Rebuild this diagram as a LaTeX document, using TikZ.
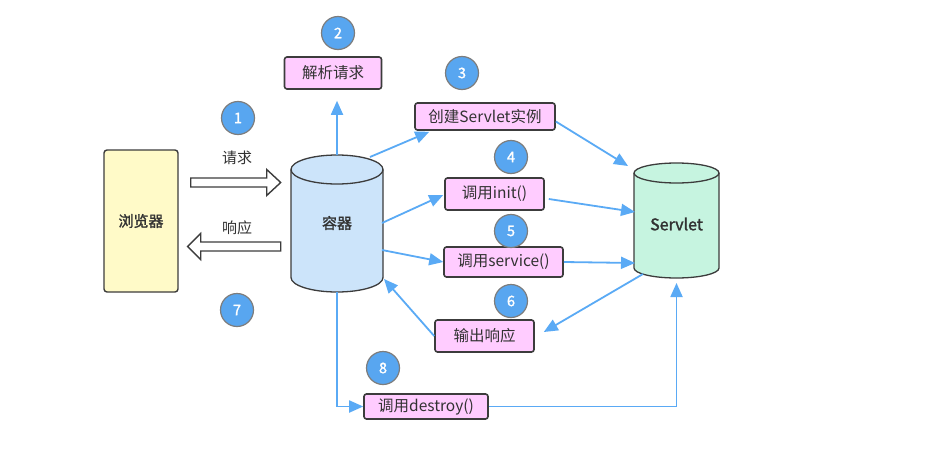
\documentclass[tikz,border=0pt]{standalone}
\usepackage{fontspec}
\newfontfamily\cjk{Noto Sans CJK SC}
\newfontfamily\cjkb[FakeBold=1.6]{Noto Sans CJK SC}
\usetikzlibrary{arrows.meta,calc}
\definecolor{flowblue}{RGB}{90,170,245}
\definecolor{badgefill}{RGB}{88,166,240}
\definecolor{badgeline}{RGB}{125,125,125}
\definecolor{contfill}{RGB}{204,228,250}
\definecolor{servfill}{RGB}{198,244,224}
\definecolor{browfill}{RGB}{255,250,200}
\definecolor{pinkfill}{RGB}{255,204,255}
\definecolor{edgegray}{RGB}{60,60,60}
\definecolor{txtgray}{RGB}{50,50,50}
\tikzset{
  pinkbox/.style={draw=edgegray, fill=pinkfill, line width=1.6pt, rounded corners=2.5pt, inner sep=0pt,
    font=\cjk\fontsize{15.5}{18}\selectfont, text=txtgray},
  badge/.style={circle, draw=badgeline, fill=badgefill, line width=1.2pt, minimum size=33pt, inner sep=0pt,
    text=white, font=\cjkb\fontsize{14.5}{16}\selectfont},
  flow/.style={draw=flowblue, line width=1.8pt, -{Triangle[length=14pt,width=12pt]}},
  hollow/.style={draw=edgegray, fill=white, line width=1.4pt, line join=miter},
  lbl/.style={font=\cjk\fontsize{15}{17}\selectfont, text=txtgray},
  cyledge/.style={draw=edgegray, line width=1.3pt},
  boldlbl/.style={font=\cjkb\fontsize{15}{17}\selectfont, text=txtgray, inner sep=0pt},
}
\begin{document}
\begin{tikzpicture}[x=1pt,y=-1pt]
\useasboundingbox (0,0) rectangle (941,452);
\fill[white] (0,0) rectangle (941,452);

% browser
\node[draw=edgegray, fill=browfill, line width=1.4pt, rounded corners=3pt, minimum width=74pt, minimum height=142pt,
  inner sep=0pt, font=\cjkb\fontsize{15}{17}\selectfont, text=txtgray] (browser) at (141,221) {浏览器};

% container cylinder
\fill[contfill] (291,169.5) -- (291,277.5) arc[start angle=180,end angle=0,x radius=46,y radius=14.5]
  -- (383,169.5) arc[start angle=0,end angle=-180,x radius=46,y radius=14.5] -- cycle;
\draw[cyledge] (291,169.5) -- (291,277.5) arc[start angle=180,end angle=0,x radius=46,y radius=14.5] -- (383,169.5);
\draw[cyledge] (337,169.5) ellipse[x radius=46,y radius=14.5];
\node[boldlbl, minimum width=92pt, minimum height=137pt] (cont) at (337,223) {容器};

% servlet cylinder
\fill[servfill] (634,173) -- (634,268) arc[start angle=180,end angle=0,x radius=42.5,y radius=10]
  -- (719,173) arc[start angle=0,end angle=-180,x radius=42.5,y radius=10] -- cycle;
\draw[cyledge] (634,173) -- (634,268) arc[start angle=180,end angle=0,x radius=42.5,y radius=10] -- (719,173);
\draw[cyledge] (676.5,173) ellipse[x radius=42.5,y radius=10];
\node[boldlbl, font=\cjkb\fontsize{16}{18}\selectfont, minimum width=85pt, minimum height=115pt] (servlet) at (676.5,224) {Servlet};

% pink boxes
\node[pinkbox, minimum width=97pt, minimum height=32pt] (parse) at (333,73) {解析请求};
\node[pinkbox, minimum width=140pt, minimum height=27pt] (create) at (485,116.5) {创建Servlet实例};
\node[pinkbox, minimum width=99pt, minimum height=32pt] (init) at (494.5,194) {调用init()};
\node[pinkbox, minimum width=119pt, minimum height=30pt] (service) at (503.5,262) {调用service()};
\node[pinkbox, minimum width=99pt, minimum height=32pt] (output) at (484.5,336) {输出响应};
\node[pinkbox, minimum width=124pt, minimum height=25pt] (destroy) at (426,406.5) {调用destroy()};

% badges
\node[badge] (b1) at (238,118) {1};
\node[badge] (b2) at (338,33) {2};
\node[badge] (b3) at (462,73) {3};
\node[badge] (b4) at (511,157) {4};
\node[badge] (b5) at (511,231) {5};
\node[badge] (b6) at (511,301) {6};
\node[badge] (b7) at (237,310) {7};
\node[badge] (b8) at (383,368) {8};

% request / response hollow arrows
\coordinate (rq) at ($(browser.east)+(12,-38.5)$);
\draw[hollow] (rq) ++(0,-4.5) -- ++(76,0) -- ++(0,-8.5) -- ++(14,13) -- ++(-14,13) -- ++(0,-8.5) -- ++(-76,0) -- cycle;
\coordinate (rs) at ($(browser.east)+(9,25.5)$);
\draw[hollow] (rs) -- ++(13,-13) -- ++(0,8.5) -- ++(80,0) -- ++(0,9) -- ++(-80,0) -- ++(0,8.5) -- cycle;
\node[lbl] (lreq) at (237,158) {请求};
\node[lbl] (lres) at (237,228) {响应};

% flows
\draw[flow] ($(cont.center)+(0,-68)$) -- ($(parse.south -| cont.center)+(0,11)$);
\draw[flow] ($(cont.center)+(33,-66)$) -- ($(create.south west)+(15,1)$);
\draw[flow] ($(create.east)+(0,5)$) -- ($(servlet.center)+(-48.5,-58)$);
\draw[flow] ($(cont.center)+(45,0)$) -- ($(init.west)+(-1,1)$);
\draw[flow] ($(init.east)+(4,5)$) -- ($(servlet.center)+(-41.5,-12)$);
\draw[flow] ($(cont.center)+(45,27)$) -- (service.west);
\draw[flow] (service.east) -- ($(servlet.center)+(-41.5,39)$);
\draw[flow] ($(servlet.center)+(-33.5,50)$) -- ($(output.east)+(9,-4)$);
\draw[flow] (output.west) -- ($(cont.center)+(47,56)$);
\draw[flow] ($(cont.center)+(0,69)$) |- (destroy.west);
\draw[flow] (destroy.east) -| ($(servlet.center)+(0,59)$);
\end{tikzpicture}
\end{document}
